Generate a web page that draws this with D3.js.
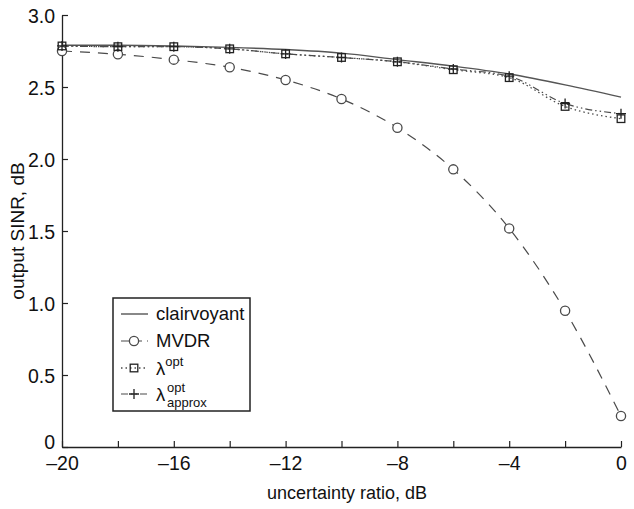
<!DOCTYPE html>
<html>
<head>
<meta charset="utf-8">
<script src="https://cdn.jsdelivr.net/npm/d3@7"></script>
<style>
  html, body { margin: 0; padding: 0; background: #fff; }
  svg { display: block; font-family: "Liberation Sans", Arial, Helvetica, sans-serif; }
</style>
</head>
<body>
<svg id="chart" width="634" height="509"></svg>
<script>
// Uncertainty ratio (dB) at which every curve was evaluated
const ratioDb = [-20, -18, -16, -14, -12, -10, -8, -6, -4, -2, 0];

// Output SINR (dB) for each beamformer
const clairvoyant = [2.79, 2.79, 2.785, 2.775, 2.76, 2.735, 2.69, 2.645, 2.59, 2.515, 2.43];
const mvdr        = [2.75, 2.727, 2.69, 2.637, 2.549, 2.417, 2.217, 1.928, 1.518, 0.946, 0.215];
const lambdaOpt   = [2.785, 2.78, 2.78, 2.765, 2.73, 2.705, 2.675, 2.62, 2.565, 2.365, 2.28];
const lambdaApprox = [2.785, 2.78, 2.78, 2.765, 2.73, 2.705, 2.675, 2.625, 2.575, 2.385, 2.315];

// Axis ticks
const xTicks = [-20, -18, -16, -14, -12, -10, -8, -6, -4, -2, 0];
const xLabelled = [-20, -16, -12, -8, -4, 0];
const yTicks = [0, 0.5, 1.0, 1.5, 2.0, 2.5, 3.0];

const svg = d3.select("#chart");
const ink = "#222";
const lineInk = "#4a4a4a";

const x = d3.scaleLinear().domain([-20, 0]).range([62, 621]);
const y = d3.scaleLinear().domain([0, 3]).range([447, 15]);

// Axes: ticks point into the plot area
const fmtY = v => v === 0 ? "0" : v.toFixed(1);
const fmtX = v => v < 0 ? "\u2013" + Math.abs(v) : String(v);

const xAxis = svg.append("g").attr("transform", `translate(0,${y(0)})`)
  .call(d3.axisBottom(x).tickValues(xTicks).tickSizeInner(-6).tickSizeOuter(0)
    .tickFormat(v => xLabelled.includes(v) ? fmtX(v) : ""));
const yAxis = svg.append("g").attr("transform", `translate(${x(-20)},0)`)
  .call(d3.axisLeft(y).tickValues(yTicks).tickSizeInner(-6).tickSizeOuter(0)
    .tickFormat(fmtY));

[xAxis, yAxis].forEach(g => {
  g.select(".domain").attr("stroke", ink).attr("stroke-width", 1.3);
  g.selectAll(".tick line").attr("stroke", ink).attr("stroke-width", 1.2);
  g.selectAll(".tick text").attr("fill", "#111").style("font-size", "19.5px")
    .style("font-family", '"Liberation Sans", Arial, sans-serif');
});
xAxis.selectAll(".tick text").attr("dy", "0.71em").attr("y", 9);
yAxis.selectAll(".tick text").attr("x", -7).attr("dy", "0.36em");
yAxis.selectAll(".tick").filter(d => d === 0).select("text").attr("dy", "0.1em");

// Axis titles
svg.append("text").attr("x", 347).attr("y", 499)
  .attr("text-anchor", "middle").style("font-size", "18px").attr("fill", "#111")
  .text("uncertainty ratio, dB");
svg.append("text")
  .attr("transform", `translate(24,${(y(0) + y(3)) / 2}) rotate(-90)`)
  .attr("text-anchor", "middle").style("font-size", "19px").attr("fill", "#111")
  .text("output SINR, dB");

// Series
const series = [
  { name: "clairvoyant", values: clairvoyant, dash: null, marker: null, width: 1.4 },
  { name: "mvdr", values: mvdr, dash: "10,8", marker: "circle", width: 1.2 },
  { name: "opt", values: lambdaOpt, dash: "1.5,3", marker: "square", width: 1.3 },
  { name: "approx", values: lambdaApprox, dash: "7,3,1.5,3,1.5,3", marker: "plus", width: 1.2 }
];

const line = d3.line().x((d, i) => x(ratioDb[i])).y(d => y(d)).curve(d3.curveMonotoneX);

function drawMarker(g, kind, cx, cy) {
  if (kind === "circle") {
    g.append("circle").attr("cx", cx).attr("cy", cy).attr("r", 4.6)
      .attr("fill", "#fff").attr("stroke", lineInk).attr("stroke-width", 1.3);
  } else if (kind === "square") {
    g.append("rect").attr("x", cx - 3.8).attr("y", cy - 3.8).attr("width", 7.6).attr("height", 7.6)
      .attr("fill", "none").attr("stroke", ink).attr("stroke-width", 1.3);
  } else if (kind === "plus") {
    g.append("path").attr("d", `M${cx - 5},${cy}H${cx + 5}M${cx},${cy - 5}V${cy + 5}`)
      .attr("stroke", ink).attr("stroke-width", 1.3).attr("fill", "none");
  }
}

const plot = svg.append("g");
series.forEach(s => {
  plot.append("path").datum(s.values).attr("d", line)
    .attr("fill", "none").attr("stroke", s.name === "clairvoyant" ? "#555" : lineInk)
    .attr("stroke-width", s.width)
    .attr("stroke-dasharray", s.dash);
});
series.forEach(s => {
  if (!s.marker) return;
  const g = plot.append("g");
  s.values.forEach((v, i) => drawMarker(g, s.marker, x(ratioDb[i]), y(v)));
});

// Legend
const lg = svg.append("g");
lg.append("rect").attr("x", 113).attr("y", 298).attr("width", 137).attr("height", 113)
  .attr("fill", "#fff").attr("stroke", ink).attr("stroke-width", 1.5);

const rows = [
  { s: series[0], yy: 314 },
  { s: series[1], yy: 341 },
  { s: series[2], yy: 368 },
  { s: series[3], yy: 394 }
];
rows.forEach(r => {
  lg.append("line").attr("x1", 121).attr("x2", 148).attr("y1", r.yy).attr("y2", r.yy)
    .attr("stroke", r.s.name === "clairvoyant" ? "#555" : lineInk)
    .attr("stroke-width", r.s.width)
    .attr("stroke-dasharray", r.s.name === "mvdr" ? "8,5" : r.s.dash);
  if (r.s.marker) drawMarker(lg, r.s.marker, 134, r.yy);
});

const tx = 156;
const legendFont = "18.5px";
lg.append("text").attr("x", tx).attr("y", 314).attr("dy", "0.35em")
  .style("font-size", legendFont).attr("fill", "#111").text("clairvoyant");
lg.append("text").attr("x", tx).attr("y", 341).attr("dy", "0.35em")
  .style("font-size", legendFont).attr("fill", "#111").text("MVDR");

const t3 = lg.append("text").attr("x", tx).attr("y", 375).style("font-size", legendFont).attr("fill", "#111");
t3.append("tspan").text("\u03bb");
t3.append("tspan").attr("dy", -9).style("font-size", "13px").text("opt");

const t4 = lg.append("g");
t4.append("text").attr("x", tx).attr("y", 401).style("font-size", legendFont).attr("fill", "#111").text("\u03bb");
t4.append("text").attr("x", tx + 11).attr("y", 392).style("font-size", "13px").attr("fill", "#111").text("opt");
t4.append("text").attr("x", tx + 11).attr("y", 407).style("font-size", "13px").attr("fill", "#111").text("approx");
</script>
</body>
</html>
